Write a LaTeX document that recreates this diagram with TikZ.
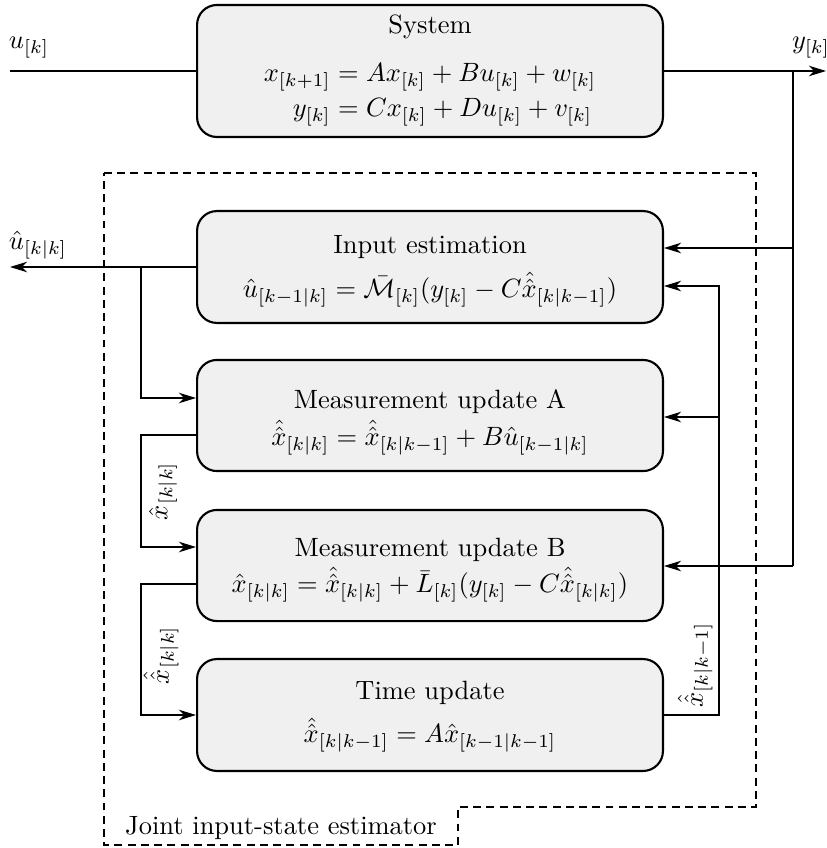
\documentclass[tikz,border=0pt]{standalone}
\usepackage{amsmath}
\usetikzlibrary{arrows.meta,calc}
\begin{document}
\begin{tikzpicture}[x=0.378pt,y=-0.378pt,
  blk/.style={draw, line width=0.8pt, rounded corners=7.5pt, fill=black!6,
              minimum width=176.1pt, inner sep=0pt},
  conn/.style={line width=0.45pt},
  arr/.style={conn, -{Stealth[length=6.5pt,width=4pt,inset=2pt]}},
  txt/.style={inner sep=0pt},
  frame/.style={line width=0.45pt, dash pattern=on 3pt off 2pt}
]
\useasboundingbox (0,0) rectangle (826,848);

% estimator frame
\draw[frame] (104,173) -- (756,173) -- (756,807) -- (458,807) -- (458,845) -- (104,845) -- cycle;
\node[txt] (jlab) at (281,828) {Joint input-state estimator};

% blocks
\node[blk, minimum height=49.9pt] (sys) at (430,71) {};
\node[blk, minimum height=42.3pt] (ie)  at (430,267) {};
\node[blk, minimum height=42pt]   (mua) at (430,415.5) {};
\node[blk, minimum height=42pt]   (mub) at (430,565.5) {};
\node[blk, minimum height=42.3pt] (tu)  at (430,715) {};

% block contents
\node[txt] (sysT) at (430,27) {System};
\node[txt] (sysF) at (430,93) {$\begin{aligned}
  x_{[k+1]} &= Ax_{[k]} + Bu_{[k]} + w_{[k]}\\[-1.8pt]
  y_{[k]} &= Cx_{[k]} + Du_{[k]} + v_{[k]}
\end{aligned}$};
\node[txt] (ieT) at (430,247) {Input estimation};
\node[txt] (ieF) at (430,290) {$\hat{u}_{[k-1|k]} = \bar{\mathcal{M}}_{[k]}(y_{[k]} - C\hat{\hat{x}}_{[k|k-1]})$};
\node[txt] (muaT) at (430,402) {Measurement update A};
\node[txt] (muaF) at (430,438) {$\hat{\hat{x}}_{[k|k]} = \hat{\hat{x}}_{[k|k-1]} + B\hat{u}_{[k-1|k]}$};
\node[txt] (mubT) at (430,550) {Measurement update B};
\node[txt] (mubF) at (430,585) {$\hat{x}_{[k|k]} = \hat{\hat{x}}_{[k|k]} + \bar{L}_{[k]}(y_{[k]} - C\hat{\hat{x}}_{[k|k]})$};
\node[txt] (tuT) at (430,693) {Time update};
\node[txt] (tuF) at (430,735) {$\hat{\hat{x}}_{[k|k-1]} = A\hat{x}_{[k-1|k-1]}$};

% system input and output
\coordinate (uin) at (10,71);
\coordinate (yout) at (826,71);
\node[txt] (ulab) at (29,48) {$u_{[k]}$};
\node[txt] (ylab) at (811,48) {$y_{[k]}$};
\draw[conn] (uin) -- (sys.west);
\draw[arr] (sys.east) -- (yout);

% measurement feedback
\coordinate (ytap) at (793,71);
\coordinate (ymid) at (793,248);
\coordinate (ylow) at (793,566);
\draw[conn] (ytap) -- (ylow);
\draw[arr] (ymid) -- (ymid -| ie.east);
\draw[arr] (ylow) -- (ylow -| mub.east);

% input estimate
\coordinate (uhat) at (10,267);
\coordinate (ubr) at (141,267);
\coordinate (ua) at (141,398);
\node[txt] (uhlab) at (38,245) {$\hat{u}_{[k|k]}$};
\draw[arr] (ie.west) -- (uhat);
\draw[arr] (ubr) -- (ua) -- (ua -| mua.west);

% state estimates passed down the chain
\coordinate (ao) at (141,435);
\coordinate (ai) at (141,547);
\draw[arr] (ao -| mua.west) -- (ao) -- (ai) -- (ai -| mub.west);
\node[txt, rotate=90] (alab) at (163,491) {$\hat{x}_{[k|k]}$};

\coordinate (bo) at (141,584);
\coordinate (bi) at (141,715);
\draw[arr] (bo -| mub.west) -- (bo) -- (bi) -- (tu.west);
\node[txt, rotate=90] (blab) at (161,655) {$\hat{\hat{x}}_{[k|k]}$};

% predicted state fed back
\coordinate (to) at (719,715);
\coordinate (tmid) at (719,417);
\coordinate (ttop) at (719,286);
\draw[arr] (tu.east) -- (to) -- (ttop) -- (ttop -| ie.east);
\draw[arr] (tmid) -- (tmid -| mua.east);
\node[txt, rotate=90] (tlab) at (695,665) {$\hat{\hat{x}}_{[k|k-1]}$};
\end{tikzpicture}
\end{document}
